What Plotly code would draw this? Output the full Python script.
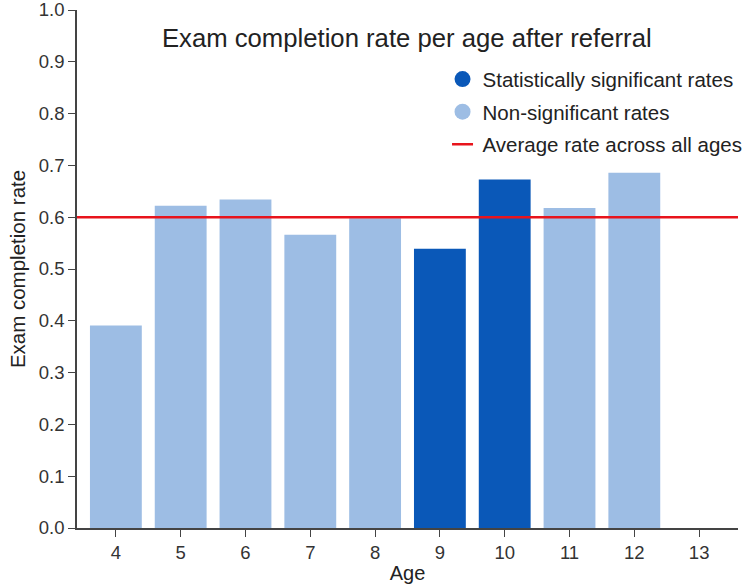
import plotly.graph_objects as go

ages = [4, 5, 6, 7, 8, 9, 10, 11, 12]
age_ticks = [4, 5, 6, 7, 8, 9, 10, 11, 12, 13]
rates = [0.391, 0.622, 0.634, 0.566, 0.598, 0.539, 0.673, 0.618, 0.686]
significant = [False, False, False, False, False, True, True, False, False]
avg_rate = 0.60

dark_blue = "#0a58b8"
light_blue = "#9dbde4"
red = "#e8141c"
font_family = "Liberation Sans, Arial, sans-serif"

fig = go.Figure()
fig.add_trace(go.Bar(
    x=ages, y=rates,
    marker=dict(color=[dark_blue if s else light_blue for s in significant],
                line=dict(width=0)),
    width=0.8, showlegend=False, hoverinfo="x+y",
))
# legend entries
fig.add_trace(go.Scatter(x=[None], y=[None], mode="markers", name="Statistically significant rates",
                         marker=dict(symbol="circle", size=17, color=dark_blue), legendgroup="a"))
fig.add_trace(go.Scatter(x=[None], y=[None], mode="markers", name="Non-significant rates",
                         marker=dict(symbol="circle", size=17, color=light_blue), legendgroup="b"))
fig.add_trace(go.Scatter(x=[None], y=[None], mode="markers", name="Average rate across all ages",
                         marker=dict(symbol="line-ew", size=15, line=dict(color=red, width=2.5)),
                         legendgroup="c"))

fig.add_shape(type="line", xref="paper", x0=0, x1=1, yref="y", y0=avg_rate, y1=avg_rate,
              line=dict(color=red, width=2.5))

fig.update_layout(
    width=745, height=588,
    margin=dict(l=77, r=7, t=10, b=60, autoexpand=False),
    plot_bgcolor="white", paper_bgcolor="white",
    font=dict(family=font_family, size=18, color="#333"),
    title=dict(text="Exam completion rate per age after referral", x=0.546, xanchor="center",
               y=1 - 38 / 588, yanchor="middle", font=dict(size=25.7, color="#222")),
    legend=dict(x=0.553, xanchor="left", y=0.905, yanchor="top", bgcolor="rgba(0,0,0,0)",
                font=dict(size=20.5, color="#222"), itemwidth=30, tracegroupgap=3,
                traceorder="grouped"),
    xaxis=dict(range=[3.4, 13.6], tickmode="array", tickvals=age_ticks,
               ticktext=[str(a) for a in age_ticks], automargin=False,
               showline=True, linecolor="#444", linewidth=1.5, ticks="outside", ticklen=7,
               tickcolor="#444", showgrid=False, zeroline=False,
               title=dict(text="Age", font=dict(size=20, color="#222"), standoff=4),
               tickfont=dict(size=18.5, color="#333")),
    yaxis=dict(range=[0, 1.0], tickmode="array", tickvals=[i / 10 for i in range(11)],
               tickformat=".1f", showline=True, linecolor="#444", linewidth=1.5,
               ticks="outside", ticklen=7, tickcolor="#444", showgrid=False, zeroline=False,
               ticklabeloverflow="allow", automargin=False,
               title=dict(text="Exam completion rate", font=dict(size=20.5, color="#222"), standoff=8),
               tickfont=dict(size=18.5, color="#333")),
    bargap=0.2,
)

fig.write_html("out.html")
